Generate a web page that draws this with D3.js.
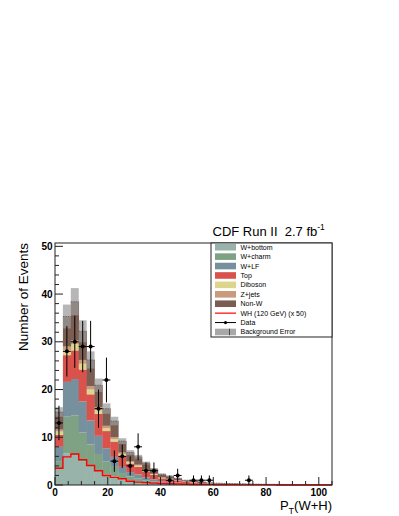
<!DOCTYPE html>
<html><head><meta charset="utf-8">
<script src="https://cdn.jsdelivr.net/npm/d3@7"></script>
<style>html,body{margin:0;padding:0;background:#fff;}svg{display:block;}</style>
</head><body>
<script>
// ---- data (35 bins of 3 GeV from 0 to 105) ----
const binEdges0 = 0, binWidth = 3;
const wBottom = [3.5,6.6,6.3,5.0,4.0,3.0,2.3,1.8,1.2,0.9,0.7,0.5,0.4,0.25,0.2,0.15,0.1,0.08,0.06,0.05,0.04,0.035,0.03,0.025,0.02,0.02,0.015,0.015,0.01,0.01,0.01,0.01,0.01,0.005,0.005];
const wCharm  = [1.5,7.7,8.3,6.0,4.5,3.5,2.6,2.0,1.3,0.9,0.7,0.5,0.4,0.25,0.2,0.15,0.1,0.08,0.06,0.05,0.04,0.035,0.03,0.025,0.02,0.02,0.015,0.015,0.01,0.01,0.01,0.01,0.01,0.005,0.005];
const wLF     = [3.0,7.3,7.6,6.5,5.0,3.8,2.8,2.1,1.3,0.9,0.8,0.6,0.4,0.3,0.25,0.2,0.15,0.1,0.08,0.06,0.05,0.045,0.04,0.035,0.03,0.025,0.02,0.02,0.015,0.015,0.01,0.01,0.01,0.01,0.01];
const top_    = [2.5,5.6,6.0,6.7,5.5,4.6,3.6,3.2,2.3,1.8,1.6,1.2,0.9,0.6,0.5,0.35,0.3,0.25,0.18,0.14,0.12,0.1,0.09,0.08,0.07,0.06,0.05,0.045,0.04,0.035,0.03,0.03,0.025,0.02,0.02];
const diboson = [0.7,1.1,1.3,1.2,1.0,0.8,0.6,0.5,0.4,0.3,0.25,0.2,0.15,0.1,0.08,0.06,0.05,0.04,0.03,0.02,0.02,0.02,0.015,0.015,0.01,0.01,0.01,0.01,0.01,0.01,0.005,0.005,0.005,0.005,0.005];
const zjets   = [0.4,0.7,0.8,0.8,0.7,0.6,0.5,0.4,0.3,0.2,0.2,0.15,0.1,0.08,0.07,0.05,0.04,0.03,0.02,0.02,0.02,0.015,0.015,0.01,0.01,0.01,0.01,0.01,0.01,0.005,0.005,0.005,0.005,0.005,0.005];
const nonW    = [3.7,6.3,8.1,6.0,5.5,4.6,3.6,3.4,2.4,1.8,1.65,1.45,0.95,0.67,0.55,0.44,0.26,0.27,0.22,0.13,0.11,0.1,0.08,0.06,0.06,0.055,0.05,0.035,0.035,0.025,0.03,0.02,0.015,0.02,0.01];
const bkgError = [1.0,2.5,2.85,2.3,1.8,1.4,1.1,0.9,0.6,0.5,0.4,0.3,0.25,0.16,0.13,0.1,0.07,0.06,0.05,0.04,0.03,0.025,0.02,0.02,0.015,0.015,0.012,0.01,0.01,0.008,0.007,0.006,0.006,0.005,0.004];
const signalWH = [3.5,5.9,6.5,5.3,4.1,3.0,2.0,1.6,1.3,0.8,0.6,0.5,0.4,0.3,0.25,0.2,0.15,0.12,0.1,0.08,0.06,0.05,0.04,0.03,0.03,0.02,0.02,0.02,0.01,0.01,0.01,0.01,0.01,0.01,0.01];
const dataCounts = [13,28,30,29,29,16,22,5,6,4,8,3,3,0,1,2,0,1,1,1,0,0,0,0,1,0,0,0,0,0,0,0,0,0,0];

const seriesNames = ["W+bottom","W+charm","W+LF","Top","Diboson","Z+jets","Non-W"];
const seriesValues = [wBottom,wCharm,wLF,top_,diboson,zjets,nonW];
const seriesColors = ["#97b3aa","#7fa285","#76909e","#d9524c","#dcd58b","#c99a7c","#7b5d52"];
const xTicks = [0,20,40,60,80,100];
const yTicks = [0,10,20,30,40,50];

const W = 399, H = 516;
const svg = d3.select("body").append("svg").attr("width",W).attr("height",H);
const x = d3.scaleLinear().domain([0,105]).range([55,332]);
const y = d3.scaleLinear().domain([0,50.7]).range([485,243]);

const nb = dataCounts.length;
const rows = d3.range(nb).map(i => {
  const r = {i, x0: binEdges0 + i*binWidth, x1: binEdges0 + (i+1)*binWidth};
  seriesNames.forEach((n,k) => r[n] = seriesValues[k][i]);
  return r;
});
const stack = d3.stack().keys(seriesNames)(rows);

const g = svg.append("g");
stack.forEach((layer,k) => {
  g.append("g").selectAll("rect").data(layer).join("rect")
    .attr("x", d => x(d.data.x0)).attr("width", d => x(d.data.x1)-x(d.data.x0)+0.3)
    .attr("y", d => y(d[1])).attr("height", d => Math.max(0, y(d[0])-y(d[1])))
    .attr("fill", seriesColors[k]);
});
// background error band
const totals = rows.map(r => seriesNames.reduce((s,n)=>s+r[n],0));
g.append("g").selectAll("rect").data(rows).join("rect")
  .attr("x", d => x(d.x0)).attr("width", d => x(d.x1)-x(d.x0))
  .attr("y", d => y(totals[d.i]+bkgError[d.i]))
  .attr("height", d => y(totals[d.i]-bkgError[d.i]) - y(totals[d.i]+bkgError[d.i]))
  .attr("fill", "#9a9a9a").attr("opacity", 0.72);
g.append("g").selectAll("line").data(rows).join("line")
  .attr("x1", d => x(d.x0)).attr("x2", d => x(d.x1))
  .attr("y1", d => y(totals[d.i])).attr("y2", d => y(totals[d.i]))
  .attr("stroke", "#555").attr("stroke-width", 0.7).attr("stroke-dasharray", "1.5,1");

// signal WH step line
const stepPts = [];
rows.forEach(r => { stepPts.push([r.x0, signalWH[r.i]]); stepPts.push([r.x1, signalWH[r.i]]); });
g.append("path").datum(stepPts)
  .attr("d", d3.line().x(d => x(d[0])).y(d => y(d[1])))
  .attr("fill","none").attr("stroke","#ff0000").attr("stroke-width",1.4);

// data points
const dg = g.append("g");
rows.filter(r => dataCounts[r.i] > 0).forEach(r => {
  const n = dataCounts[r.i], xc = x((r.x0+r.x1)/2), e = Math.sqrt(n);
  dg.append("line").attr("x1",xc).attr("x2",xc).attr("y1",y(n+e)).attr("y2",y(Math.max(0,n-e)))
    .attr("stroke","#000").attr("stroke-width",1);
  dg.append("line").attr("x1",x(r.x0)).attr("x2",x(r.x1)).attr("y1",y(n)).attr("y2",y(n))
    .attr("stroke","#000").attr("stroke-width",1);
  dg.append("circle").attr("cx",xc).attr("cy",y(n)).attr("r",2).attr("fill","#000");
});

// frame
svg.append("rect").attr("x",55).attr("y",243).attr("width",277).attr("height",242)
  .attr("fill","none").attr("stroke","#222").attr("stroke-width",1);

// y ticks (inward)
const yMinor = d3.range(0,51,2);
svg.append("g").selectAll("line").data(yMinor).join("line")
  .attr("x1",55).attr("x2", d => 55 + (d%10===0 ? 8 : 4))
  .attr("y1", d => y(d)).attr("y2", d => y(d)).attr("stroke","#222").attr("stroke-width",1);
svg.append("g").selectAll("text").data(yTicks).join("text")
  .attr("x",52.5).attr("y", d => y(d)+3.6).attr("text-anchor","end")
  .style("font-family","'Liberation Sans', Arial, sans-serif").style("font-weight","bold").style("font-size","10px")
  .text(d => d);
// x ticks
const xMinor = d3.range(0,106,5);
svg.append("g").selectAll("line").data(xMinor).join("line")
  .attr("y1",485).attr("y2", d => 485 - (d%20===0 ? 8 : 4))
  .attr("x1", d => x(d)).attr("x2", d => x(d)).attr("stroke","#222").attr("stroke-width",1);
svg.append("g").selectAll("text").data(xTicks).join("text")
  .attr("x", d => x(d)).attr("y",495.5).attr("text-anchor","middle")
  .style("font-family","'Liberation Sans', Arial, sans-serif").style("font-weight","bold").style("font-size","10px")
  .text(d => d);

// axis titles
const yt = svg.append("text").attr("transform","translate(28,243) rotate(-90)").attr("text-anchor","end")
  .style("font-family","'Liberation Sans', Arial, sans-serif").style("font-size","13.5px").text("Number of Events");
const xt = svg.append("text").attr("x",332).attr("y",510).attr("text-anchor","end")
  .style("font-family","'Liberation Sans', Arial, sans-serif").style("font-size","13px");
xt.append("tspan").text("P");
xt.append("tspan").attr("dy",3.5).style("font-size","9px").text("T");
xt.append("tspan").attr("dy",-3.5).text("(W+H)");

// title
const tt = svg.append("text").attr("x",212.5).attr("y",235.5).attr("xml:space","preserve")
  .style("white-space","pre")
  .style("font-family","'Liberation Sans', Arial, sans-serif").style("font-size","13px");
tt.append("tspan").text("CDF Run II  2.7 fb");
tt.append("tspan").attr("dy",-6).style("font-size","8.5px").text("-1");

// legend
const lg = svg.append("g");
lg.append("rect").attr("x",211).attr("y",243).attr("width",121).attr("height",94)
  .attr("fill","#fff").attr("stroke","#222").attr("stroke-width",1);
const legendLabels = seriesNames.concat(["WH (120 GeV) (x 50)","Data","Background Error"]);
legendLabels.forEach((lab,k) => {
  const cy = 247.2 + k*9.42;
  if (k < 7) {
    lg.append("rect").attr("x",215).attr("y",cy-3.3).attr("width",21).attr("height",6.6).attr("fill",seriesColors[k]);
  } else if (k === 7) {
    lg.append("line").attr("x1",215).attr("x2",236).attr("y1",cy).attr("y2",cy).attr("stroke","#ff0000").attr("stroke-width",1.2);
  } else if (k === 8) {
    lg.append("line").attr("x1",215).attr("x2",236).attr("y1",cy).attr("y2",cy).attr("stroke","#000").attr("stroke-width",1);
    lg.append("circle").attr("cx",225.5).attr("cy",cy).attr("r",1.6).attr("fill","#000");
  } else {
    lg.append("rect").attr("x",215).attr("y",cy-3.3).attr("width",21).attr("height",6.6).attr("fill","#a8a8a8");
    lg.append("line").attr("x1",229.5).attr("x2",229.5).attr("y1",cy-3.3).attr("y2",cy+3.3).attr("stroke","#333").attr("stroke-width",0.8);
  }
  lg.append("text").attr("x",240.5).attr("y",cy+2.5)
    .style("font-family","'Liberation Sans', Arial, sans-serif").style("font-size","7px").text(lab);
});
</script>
</body></html>
